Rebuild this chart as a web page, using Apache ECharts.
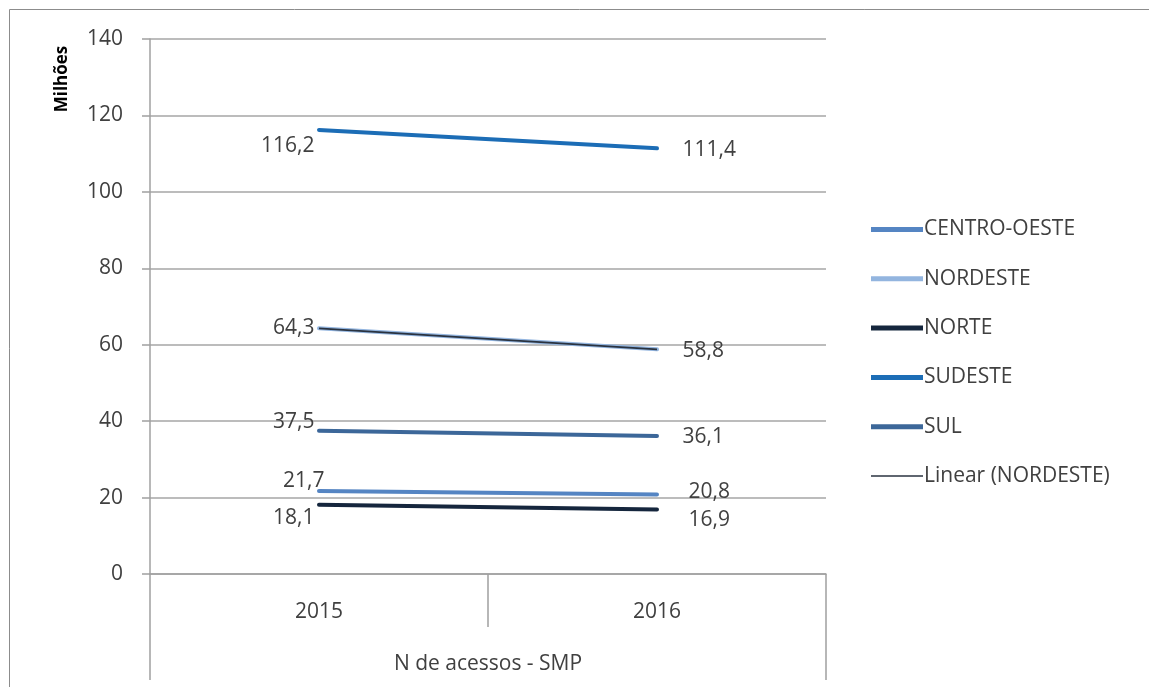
<!DOCTYPE html>
<html>
<head>
<meta charset="utf-8">
<script src="https://cdn.jsdelivr.net/npm/echarts@6/dist/echarts.min.js"></script>
<style>
  html, body { margin: 0; padding: 0; background: #fff; }
  #chart { width: 1149px; height: 687px; }
</style>
</head>
<body>
<div id="chart"></div>
<script>
// Mobile accesses (SMP) by region, in millions
const years = ['2015', '2016'];
const groupLabel = ['N de acessos - SMP'];
const yTicks = { min: 0, max: 140, step: 20 };

const centroOeste = [21.7, 20.8];
const nordeste = [64.3, 58.8];
const norte = [18.1, 16.9];
const sudeste = [116.2, 111.4];
const sul = [37.5, 36.1];

// Straight-line fit through the NORDESTE points
function linearFit(vals) {
  const n = vals.length;
  let sx = 0, sy = 0, sxy = 0, sxx = 0;
  vals.forEach((v, i) => { sx += i; sy += v; sxy += i * v; sxx += i * i; });
  const b = (n * sxy - sx * sy) / (n * sxx - sx * sx);
  const a = (sy - b * sx) / n;
  return vals.map((_, i) => +(a + b * i).toFixed(3));
}

const fmt = v => v.toFixed(1).replace('.', ',');
const txt = '#404040';
const FONT = '"Open Sans", "Noto Sans", sans-serif';
const FS = 21;

// Label placement per series: [first point, last point] nudges
const labelNudge = {
  'CENTRO-OESTE': [[10, -10], [6, -2]],
  'NORDESTE': [[0, 0], [0, 2]],
  'NORTE': [[0, 13], [6, 11]],
  'SUDESTE': [[0, 16], [0, 2]],
  'SUL': [[0, -9], [0, 1]]
};

function regionSeries(name, values, color) {
  const nudge = labelNudge[name];
  return {
    name, type: 'line', symbol: 'none', z: 3,
    data: values.map((v, i) => ({
      value: v,
      symbol: 'circle', symbolSize: 1,
      label: {
        show: true,
        position: i === 0 ? 'left' : 'right',
        distance: i === 0 ? 4 : 25,
        offset: nudge[i],
        formatter: p => fmt(p.value),
        color: txt, fontSize: FS, fontFamily: FONT
      }
    })),
    lineStyle: { color, width: 4, cap: 'round' },
    itemStyle: { color }
  };
}

const regionNames = ['CENTRO-OESTE', 'NORDESTE', 'NORTE', 'SUDESTE', 'SUL'];
const trendName = 'Linear (NORDESTE)';

const chart = echarts.init(document.getElementById('chart'));
chart.setOption({
  animation: false,
  backgroundColor: '#fff',
  textStyle: { fontFamily: FONT },
  grid: { left: 150, right: 323, top: 39, bottom: 113 },
  legend: {
    orient: 'vertical', left: 866, top: 214,
    itemWidth: 52, itemHeight: 5, itemGap: 28.3,
    textStyle: { color: txt, fontSize: FS, fontFamily: FONT, padding: [0, 0, 0, -4] },
    data: regionNames.map(n => ({ name: n, icon: 'rect' }))
      .concat([{ name: trendName, icon: 'path://M0,0H52V1.6H0Z' }])
  },
  xAxis: [{
    type: 'category', data: years, boundaryGap: true,
    axisLine: { lineStyle: { color: '#a0a0a0', width: 1.5 } },
    axisTick: { show: true, length: 53, lineStyle: { color: '#a0a0a0', width: 1.5 } },
    axisLabel: { color: txt, fontSize: FS, margin: 28 },
    splitLine: { show: false }
  }, {
    type: 'category', data: groupLabel, position: 'bottom', boundaryGap: true,
    axisLine: { show: false },
    axisTick: { show: true, length: 106, lineStyle: { color: '#a0a0a0', width: 1.5 } },
    axisLabel: { color: txt, fontSize: FS, margin: 80 }
  }],
  yAxis: {
    type: 'value', min: yTicks.min, max: yTicks.max, interval: yTicks.step,
    axisLine: { show: true, lineStyle: { color: '#a0a0a0', width: 1.5 } },
    axisTick: { show: true, length: 8, lineStyle: { color: '#a0a0a0', width: 1.5 } },
    axisLabel: { color: txt, fontSize: FS, margin: 27 },
    splitLine: { lineStyle: { color: '#a6a6a6', width: 1.5 } }
  },
  graphic: [
    { type: 'rect', shape: { x: 9.5, y: 9.5, width: 1150, height: 700 },
      style: { fill: 'none', stroke: '#8c8c8c', lineWidth: 1 }, z: -1 },
    { type: 'text', x: 62, y: 79, rotation: Math.PI / 2,
      style: { text: 'Milhões', fill: '#000', font: 'bold 17px ' + FONT,
               textAlign: 'center', textVerticalAlign: 'middle' } }
  ],
  series: [
    regionSeries('CENTRO-OESTE', centroOeste, '#5585c3'),
    regionSeries('NORDESTE', nordeste, '#93b5df'),
    regionSeries('NORTE', norte, '#15263d'),
    regionSeries('SUDESTE', sudeste, '#1c6db6'),
    regionSeries('SUL', sul, '#3c6799'),
    {
      name: trendName, type: 'line', data: linearFit(nordeste),
      symbol: 'none', z: 4, silent: true,
      lineStyle: { color: '#2a3340', width: 1.8 },
      itemStyle: { color: '#2a3340' }
    }
  ]
});
</script>
</body>
</html>
